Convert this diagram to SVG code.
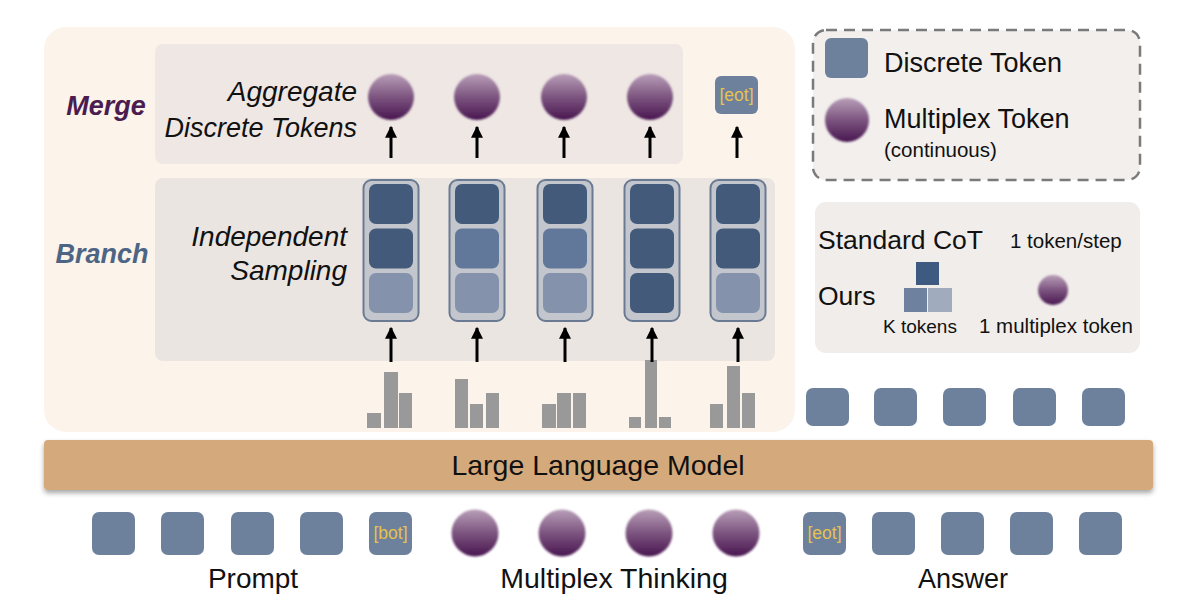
<svg xmlns="http://www.w3.org/2000/svg" width="1200" height="616" viewBox="0 0 1200 616">
<defs>
<linearGradient id="mx" x1="0" y1="0" x2="0" y2="1">
<stop offset="0" stop-color="#b89eb8"/>
<stop offset="0.5" stop-color="#7d5580"/>
<stop offset="1" stop-color="#481650"/>
</linearGradient>
<filter id="soft" x="-20%" y="-20%" width="140%" height="140%"><feGaussianBlur stdDeviation="0.8"/></filter>
<filter id="shadow" x="-5%" y="-30%" width="110%" height="180%"><feDropShadow dx="0" dy="3" stdDeviation="2.5" flood-color="#000" flood-opacity="0.35"/></filter>
<marker id="ah" viewBox="0 0 10 10" refX="9" refY="5" markerWidth="4" markerHeight="4" orient="auto"><path d="M0,0 L10,5 L0,10 z" fill="#000"/></marker>
</defs>
<style>
.t{font-family:"Liberation Sans",Arial,sans-serif;fill:#111}
.it{font-style:italic}
.tok{fill:#6e819c}
.dk{fill:#435a7b}.md{fill:#62789a}.lt{fill:#8493ab}
.frame{fill:#c4c6cd;stroke:#6a7a92;stroke-width:2}
.mx{fill:url(#mx);filter:url(#soft)}
.bar{fill:#999}
.sp{font-family:"Liberation Sans",Arial,sans-serif;fill:#e8c24a;font-size:17.5px}
.arr{stroke:#000;stroke-width:3;fill:none;marker-end:url(#ah)}
</style>
<rect width="1200" height="616" fill="#fff"/>

<g id="main-panel">
<rect x="44" y="27" width="751" height="405" rx="22" fill="#fcf3eb"/>
</g>
<g id="merge-panel">
<rect x="155" y="44" width="528" height="120" rx="8" fill="#efe7e4"/>
<text class="t" x="106" y="115" font-size="27" font-weight="bold" font-style="italic" text-anchor="middle" style="fill:#4a1c4f">Merge</text>
<text class="t it" x="357" y="101" font-size="28" text-anchor="end">Aggregate</text>
<text class="t it" x="357" y="137" font-size="27" text-anchor="end">Discrete Tokens</text>
</g>
<g id="branch-panel">
<rect x="155" y="178" width="620" height="183" rx="8" fill="#ebe5e1"/>
<text class="t" x="102" y="263" font-size="27" font-weight="bold" font-style="italic" text-anchor="middle" style="fill:#4d6585">Branch</text>
<text class="t it" x="347" y="246" font-size="28" text-anchor="end">Independent</text>
<text class="t it" x="347" y="280" font-size="28" text-anchor="end">Sampling</text>
</g>

<g id="merge-tokens">
<circle class="mx" cx="391" cy="97" r="23"/>
<circle class="mx" cx="477" cy="97" r="23"/>
<circle class="mx" cx="564" cy="97" r="23"/>
<circle class="mx" cx="650" cy="97" r="23"/>
<rect class="tok" x="715" y="76" width="43" height="38" rx="6"/>
<text class="sp" x="736.5" y="101" text-anchor="middle">[eot]</text>
</g>

<g id="sample-columns">
<g id="col1"><rect class="frame" x="363.5" y="180" width="55" height="141" rx="8"/>
<rect class="dk" x="369" y="184" width="44" height="40" rx="7"/><rect class="dk" x="369" y="228.5" width="44" height="40" rx="7"/><rect class="lt" x="369" y="273" width="44" height="40" rx="7"/></g>
<g id="col2"><rect class="frame" x="449.5" y="180" width="55" height="141" rx="8"/>
<rect class="dk" x="455" y="184" width="44" height="40" rx="7"/><rect class="md" x="455" y="228.5" width="44" height="40" rx="7"/><rect class="lt" x="455" y="273" width="44" height="40" rx="7"/></g>
<g id="col3"><rect class="frame" x="537.5" y="180" width="55" height="141" rx="8"/>
<rect class="dk" x="543" y="184" width="44" height="40" rx="7"/><rect class="md" x="543" y="228.5" width="44" height="40" rx="7"/><rect class="lt" x="543" y="273" width="44" height="40" rx="7"/></g>
<g id="col4"><rect class="frame" x="624.5" y="180" width="55" height="141" rx="8"/>
<rect class="dk" x="630" y="184" width="44" height="40" rx="7"/><rect class="dk" x="630" y="228.5" width="44" height="40" rx="7"/><rect class="dk" x="630" y="273" width="44" height="40" rx="7"/></g>
<g id="col5"><rect class="frame" x="710.5" y="180" width="55" height="141" rx="8"/>
<rect class="dk" x="716" y="184" width="44" height="40" rx="7"/><rect class="dk" x="716" y="228.5" width="44" height="40" rx="7"/><rect class="lt" x="716" y="273" width="44" height="40" rx="7"/></g>
</g>

<g id="histograms">
<rect class="bar" x="367" y="413" width="14" height="15"/><rect class="bar" x="384" y="372" width="14" height="56"/><rect class="bar" x="399" y="393" width="13" height="35"/>
<rect class="bar" x="455" y="379" width="13" height="49"/><rect class="bar" x="470" y="404" width="13" height="24"/><rect class="bar" x="486" y="393" width="13" height="35"/>
<rect class="bar" x="542" y="404" width="14" height="24"/><rect class="bar" x="557" y="393" width="14" height="35"/><rect class="bar" x="573" y="393" width="13" height="35"/>
<rect class="bar" x="629" y="417" width="12" height="11"/><rect class="bar" x="645" y="360" width="12" height="68"/><rect class="bar" x="659" y="417" width="12" height="11"/>
<rect class="bar" x="710" y="404" width="13" height="24"/><rect class="bar" x="727" y="366" width="13" height="62"/><rect class="bar" x="742" y="393" width="13" height="35"/>
</g>

<g id="connectors">
<line class="arr" x1="391" y1="158" x2="391" y2="127"/>
<line class="arr" x1="477" y1="158" x2="477" y2="127"/>
<line class="arr" x1="564" y1="158" x2="564" y2="127"/>
<line class="arr" x1="650" y1="158" x2="650" y2="127"/>
<line class="arr" x1="737" y1="158" x2="737" y2="127"/>
<line class="arr" x1="391" y1="362" x2="391" y2="328"/>
<line class="arr" x1="477" y1="362" x2="477" y2="328"/>
<line class="arr" x1="565" y1="362" x2="565" y2="328"/>
<line class="arr" x1="652" y1="362" x2="652" y2="328"/>
<line class="arr" x1="738" y1="362" x2="738" y2="328"/>
<line class="arr" x1="972" y1="293" x2="1007" y2="293"/>
</g>

<g id="legend">
<rect x="813" y="30" width="327" height="150" rx="13" fill="#f2efed" stroke="#7a7a7a" stroke-width="2.5" stroke-dasharray="11 7"/>
<rect class="tok" x="825" y="38" width="43" height="40" rx="6"/>
<text class="t" x="884" y="72" font-size="27">Discrete Token</text>
<circle class="mx" cx="847" cy="120" r="22"/>
<text class="t" x="884" y="128" font-size="27">Multiplex Token</text>
<text class="t" x="884" y="157" font-size="20.5">(continuous)</text>
</g>

<g id="comparison">
<rect x="815" y="202" width="325" height="151" rx="11" fill="#f0edeb"/>
<text class="t" x="818" y="249" font-size="26.5">Standard CoT</text>
<text class="t" x="1010" y="248" font-size="20.5">1 token/step</text>
<text class="t" x="818" y="305" font-size="26.5">Ours</text>
<rect x="916" y="262" width="23" height="23" fill="#3f5a80"/>
<rect x="904" y="288" width="23" height="24" fill="#6e82a0"/>
<rect x="928" y="288" width="24" height="24" fill="#a0abbd"/>
<circle class="mx" cx="1053" cy="290" r="15"/>
<text class="t" x="883" y="333" font-size="19">K tokens</text>
<text class="t" x="979" y="333" font-size="20.5">1 multiplex token</text>
</g>

<g id="output-tokens">
<rect class="tok" x="806" y="388" width="43" height="38" rx="7"/>
<rect class="tok" x="874" y="388" width="43" height="38" rx="7"/>
<rect class="tok" x="943" y="388" width="43" height="38" rx="7"/>
<rect class="tok" x="1013" y="388" width="43" height="38" rx="7"/>
<rect class="tok" x="1082" y="388" width="43" height="38" rx="7"/>
</g>

<g id="llm">
<rect x="44" y="440" width="1109" height="50" rx="4" fill="#d4aa7c" filter="url(#shadow)"/>
<text class="t" x="598" y="475" font-size="28.5" text-anchor="middle">Large Language Model</text>
</g>

<g id="input-tokens">
<rect class="tok" x="92" y="512" width="43" height="43" rx="7"/>
<rect class="tok" x="161" y="512" width="43" height="43" rx="7"/>
<rect class="tok" x="231" y="512" width="43" height="43" rx="7"/>
<rect class="tok" x="300" y="512" width="43" height="43" rx="7"/>
<rect class="tok" x="369" y="512" width="43" height="43" rx="7"/>
<text class="sp" x="390.5" y="539" text-anchor="middle">[bot]</text>
<circle class="mx" cx="475" cy="533" r="23.5"/>
<circle class="mx" cx="562" cy="533" r="23.5"/>
<circle class="mx" cx="649" cy="533" r="23.5"/>
<circle class="mx" cx="736" cy="533" r="23.5"/>
<rect class="tok" x="803" y="512" width="43" height="43" rx="7"/>
<text class="sp" x="824.5" y="539" text-anchor="middle">[eot]</text>
<rect class="tok" x="872" y="512" width="43" height="43" rx="7"/>
<rect class="tok" x="941" y="512" width="43" height="43" rx="7"/>
<rect class="tok" x="1010" y="512" width="43" height="43" rx="7"/>
<rect class="tok" x="1079" y="512" width="43" height="43" rx="7"/>
</g>

<g id="labels">
<text class="t" x="253" y="588" font-size="28" text-anchor="middle">Prompt</text>
<text class="t" x="614" y="588" font-size="28.5" text-anchor="middle">Multiplex Thinking</text>
<text class="t" x="963" y="588" font-size="27" text-anchor="middle">Answer</text>
</g>
</svg>
